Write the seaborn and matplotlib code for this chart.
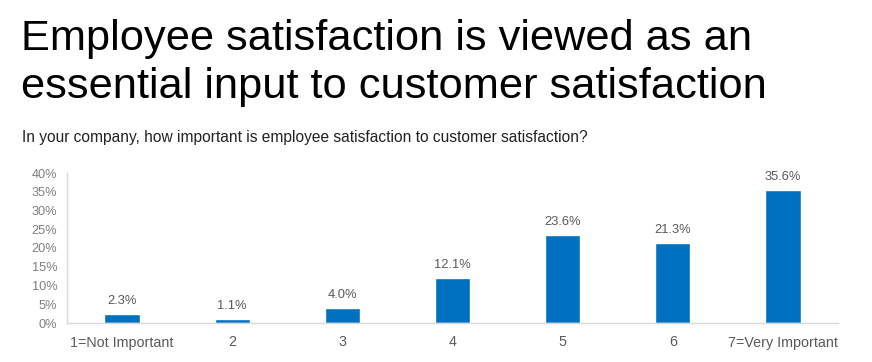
import matplotlib
matplotlib.use("Agg")
import matplotlib.pyplot as plt
import seaborn as sns
import pandas as pd

categories = ["1=Not Important", "2", "3", "4", "5", "6", "7=Very Important"]
values = [2.3, 1.1, 4.0, 12.1, 23.6, 21.3, 35.6]
yticks = [0, 5, 10, 15, 20, 25, 30, 35, 40]

title = "Employee satisfaction is viewed as an\nessential input to customer satisfaction"
subtitle = "In your company, how important is employee satisfaction to customer satisfaction?"

sns.set_theme(style="white")
plt.rcParams['font.family'] = ['Liberation Sans', 'DejaVu Sans']

W, H = 872, 362
fig = plt.figure(figsize=(W/100, H/100), dpi=100)
ax = fig.add_axes([67/W, 1-323/H, 771/W, 150/H])

df = pd.DataFrame({"cat": categories, "val": values})
sns.barplot(data=df, x="cat", y="val", color="#0070C0", saturation=1, width=0.32, ax=ax)

ax.set_xlim(-0.5, 6.5)
ax.set_ylim(0, 40)
ax.set_yticks(yticks)
ax.set_yticklabels([f"{t}%" for t in yticks])
ax.set_xlabel("")
ax.set_ylabel("")
for s in ["top", "right"]:
    ax.spines[s].set_visible(False)
for s in ["left", "bottom"]:
    ax.spines[s].set_color("#d9d9d9")
    ax.spines[s].set_linewidth(1)
ax.tick_params(axis="y", colors="#7f7f7f", labelsize=9.2, length=0, pad=7)
ax.tick_params(axis="x", colors="#595959", labelsize=10.3, length=0, pad=9)

for i, v in enumerate(values):
    ax.annotate(f"{v:.1f}%", (i, v), xytext=(0, 5), textcoords="offset points",
                ha="center", va="bottom", fontsize=9.3, color="#595959")

fig.text(21/W, 1-50/H, title.split("\n")[0], fontsize=31.2, color="black", ha="left", va="baseline")
fig.text(21/W, 1-98/H, title.split("\n")[1], fontsize=31.2, color="black", ha="left", va="baseline")
fig.text(22/W, 1-142/H, subtitle, fontsize=11.2, color="#222222", ha="left", va="baseline")

fig.savefig("out.png", dpi=100)
